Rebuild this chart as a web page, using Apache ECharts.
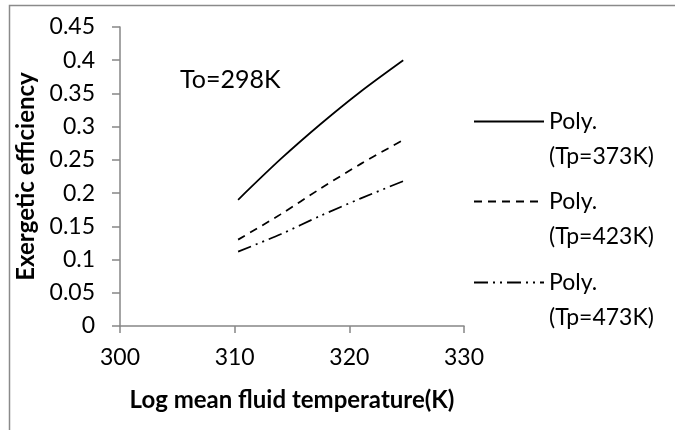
<!DOCTYPE html>
<html>
<head>
<meta charset="utf-8">
<script src="https://cdn.jsdelivr.net/npm/echarts@6/dist/echarts.min.js"></script>
<style>
html, body { margin: 0; padding: 0; background: #fff; }
#main { width: 675px; height: 430px; }
</style>
</head>
<body>
<div id="main"></div>
<script>
// values
var names = ['Poly.\n(Tp=373K)', 'Poly.\n(Tp=423K)', 'Poly.\n(Tp=473K)'];
var tempX = [310.3, 314, 317.5, 321, 324.7];
var eff373 = [0.19, 0.251, 0.304, 0.353, 0.40];
var eff423 = [0.13, 0.168, 0.207, 0.244, 0.28];
var eff473 = [0.112, 0.138, 0.166, 0.192, 0.218];
var xTicks = [300, 310, 320, 330];
var yTicks = [0, 0.45, 0.05];

function pairs(xs, ys) {
    return xs.map(function (x, i) { return [x, ys[i]]; });
}

var font = 'Lato, "Open Sans", sans-serif';
var axisGray = '#868686';

var myChart = echarts.init(document.getElementById('main'));

function legendAt(name, top) {
    return {
        data: [name],
        left: 473,
        top: top,
        padding: 0,
        orient: 'vertical',
        itemWidth: 70,
        itemHeight: 14,
        selectedMode: false,
        itemStyle: { opacity: 0 },
        formatter: function (n) { return '\n' + n; },
        textStyle: { fontFamily: font, fontSize: 23, lineHeight: 35, color: '#000' }
    };
}

var option = {
    animation: false,
    backgroundColor: '#fff',
    grid: { left: 120, right: 211, top: 27, bottom: 104 },
    legend: [
        legendAt(names[0], 69),
        legendAt(names[1], 149),
        legendAt(names[2], 230)
    ],
    graphic: [{
        type: 'rect',
        shape: { x: 9.5, y: 5.5, width: 720, height: 480 },
        style: { fill: null, stroke: '#8a8a8a', lineWidth: 1.5 },
        silent: true
    }, {
        type: 'text',
        x: 180,
        y: 80,
        style: {
            text: 'To=298K',
            font: '25px ' + font,
            fill: '#000',
            verticalAlign: 'middle'
        }
    }],
    xAxis: {
        type: 'value',
        min: xTicks[0],
        max: xTicks[xTicks.length - 1],
        interval: xTicks[1] - xTicks[0],
        name: 'Log mean fluid temperature(K)',
        nameLocation: 'middle',
        nameGap: 62,
        nameTextStyle: { fontFamily: font, fontSize: 24, fontWeight: 'bold', color: '#000' },
        axisLine: { lineStyle: { color: axisGray, width: 1.5 } },
        axisTick: { show: true, length: 7, lineStyle: { color: axisGray, width: 1.5 } },
        axisLabel: { margin: 20, fontFamily: font, fontSize: 23, color: '#000' },
        splitLine: { show: false }
    },
    yAxis: {
        type: 'value',
        min: yTicks[0],
        max: yTicks[1],
        interval: yTicks[2],
        name: 'Exergetic efficiency',
        nameLocation: 'middle',
        nameGap: 78,
        nameTextStyle: { fontFamily: font, fontSize: 24, fontWeight: 'bold', color: '#000' },
        axisLine: { show: true, lineStyle: { color: axisGray, width: 1.5 } },
        axisTick: { show: true, length: 8, lineStyle: { color: axisGray, width: 1.5 } },
        axisLabel: { margin: 25, fontFamily: font, fontSize: 23, color: '#000' },
        splitLine: { show: false }
    },
    series: [{
        name: names[0],
        type: 'line',
        smooth: 0.3,
        symbol: 'none',
        data: pairs(tempX, eff373),
        lineStyle: { color: '#000', width: 1.75, type: 'solid' },
        itemStyle: { color: '#000' }
    }, {
        name: names[1],
        type: 'line',
        smooth: 0.3,
        symbol: 'none',
        data: pairs(tempX, eff423),
        lineStyle: { color: '#000', width: 1.75, type: [8, 6] },
        itemStyle: { color: '#000' }
    }, {
        name: names[2],
        type: 'line',
        smooth: 0.3,
        symbol: 'none',
        data: pairs(tempX, eff473),
        lineStyle: { color: '#000', width: 1.75, type: [14, 5, 2, 5, 2, 5] },
        itemStyle: { color: '#000' }
    }]
};
myChart.setOption(option);
</script>
</body>
</html>
